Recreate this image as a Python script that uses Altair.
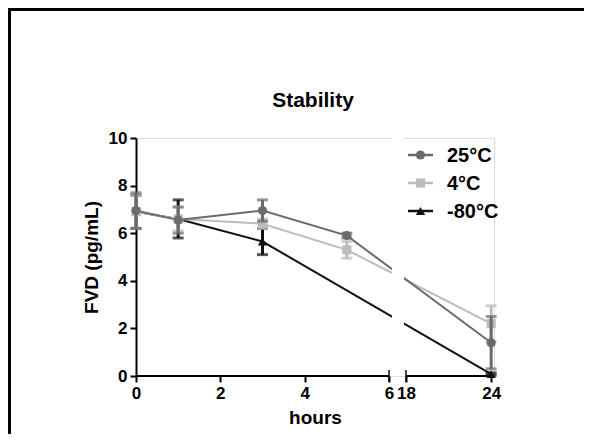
import altair as alt
import pandas as pd

# ---- data ----
hours = [0, 1, 3, 5, 24]
s25_mean = [6.95, 6.55, 6.95, 5.9, 1.4]
s25_err = [0.75, 0.55, 0.45, 0.1, 1.1]
s4_mean = [6.9, 6.6, 6.4, 5.3, 2.2]
s4_err = [0.7, 0.5, 0.2, 0.35, 0.75]
hours80 = [0, 1, 3, 24]
s80_mean = [6.9, 6.6, 5.65, 0.08]
s80_err = [0.7, 0.8, 0.55, 0.05]

series_names = ["25\u00b0C", "4\u00b0C", "-80\u00b0C"]
series_colors = ["#6b6b6b", "#bcbcbc", "#111111"]
series_shapes = ["circle", "square", "triangle-up"]

chart_title = "Stability"
x_ticks = [0, 2, 4, 6, 18, 24]
y_ticks = [0, 2, 4, 6, 8, 10]
axis_segments = [(0, 6), (18, 24.2)]
break_gap = (8.1, 16.6)

FONT = "Liberation Sans"

def make_df(h, m, e):
    return pd.DataFrame({"h": h, "m": m, "lo": [a - b for a, b in zip(m, e)],
                         "hi": [a + b for a, b in zip(m, e)]})

dfs = {
    "25\u00b0C": make_df(hours, s25_mean, s25_err),
    "4\u00b0C": make_df(hours, s4_mean, s4_err),
    "-80\u00b0C": make_df(hours80, s80_mean, s80_err),
}

xscale = alt.Scale(domain=[0, 6, 18, 24.2], range=[0, 253, 270, 358], nice=False, zero=False)
yscale = alt.Scale(domain=[0, 10], nice=False, zero=False)
xaxis = alt.Axis(values=x_ticks, domain=False, grid=False, tickColor="black", tickWidth=2,
                 tickSize=6, labelFont=FONT, labelFontSize=17, labelFontWeight="bold",
                 labelColor="black", labelPadding=3, labelFlush=False, labelOverlap=False,
                 title="hours", titleFont=FONT, titleFontSize=19, titleFontWeight="bold",
                 titleColor="black", titlePadding=7)
yaxis = alt.Axis(values=y_ticks, grid=False, domainColor="black", domainWidth=2,
                 tickColor="black", tickWidth=2, tickSize=6, labelFont=FONT,
                 labelFontSize=17, labelFontWeight="bold", labelColor="black",
                 labelPadding=3, labelFlush=False,
                 title="FVD (pg/mL)", titleFont=FONT, titleFontSize=19,
                 titleFontWeight="bold", titleColor="black", titlePadding=7)

def X(f):
    return alt.X(f, type="quantitative", scale=xscale, axis=xaxis)

def Y(f):
    return alt.Y(f, type="quantitative", scale=yscale, axis=yaxis)

layers = []

# broken x-axis baseline segments
seg_df = pd.DataFrame({"a": [s[0] for s in axis_segments], "b": [s[1] for s in axis_segments],
                       "y": [0, 0]})
layers.append(alt.Chart(seg_df).mark_rule(color="black", strokeWidth=2).encode(
    x=X("a"), x2="b", y=Y("y")))
cap_df = pd.DataFrame({"x": [6, 18], "y": [0, 0]})
layers.append(alt.Chart(cap_df).mark_tick(color="black", thickness=2, size=12,
                                          orient="vertical").encode(x=X("x"), y=Y("y")))

order = [2, 1, 0]
for i in order:
    name = series_names[i]
    d = dfs[name]
    c = series_colors[i]
    layers.append(alt.Chart(d).mark_line(color=c, strokeWidth=2).encode(x=X("h"), y=Y("m")))

# white gap for the axis break
gap_df = pd.DataFrame({"a": [break_gap[0]], "b": [break_gap[1]], "y0": [0.05], "y1": [10]})
layers.append(alt.Chart(gap_df).mark_rect(color="white").encode(
    x=X("a"), x2="b", y=Y("y0"), y2="y1"))

for i in order:
    name = series_names[i]
    d = dfs[name]
    c = series_colors[i]
    base = alt.Chart(d)
    layers.append(base.mark_rule(color=c, strokeWidth=3).encode(x=X("h"), y=Y("lo"), y2="hi"))
    layers.append(base.mark_tick(color=c, thickness=3, size=11, orient="horizontal").encode(
        x=X("h"), y=Y("lo")))
    layers.append(base.mark_tick(color=c, thickness=3, size=11, orient="horizontal").encode(
        x=X("h"), y=Y("hi")))
    layers.append(base.mark_point(color=c, shape=series_shapes[i], filled=True, opacity=1,
                                  size=85).encode(x=X("h"), y=Y("m")))

# manual legend
leg_rows = [17, 45, 73]
for i in range(3):
    c = series_colors[i]
    ld = pd.DataFrame({"label": [series_names[i]]})
    lb = alt.Chart(ld)
    layers.append(lb.mark_rule(color=c, strokeWidth=2.5).encode(
        x=alt.value(272), x2=alt.value(297), y=alt.value(leg_rows[i])))
    layers.append(lb.mark_point(color=c, shape=series_shapes[i], filled=True, opacity=1,
                                size=85).encode(x=alt.value(284.5), y=alt.value(leg_rows[i])))
    layers.append(lb.mark_text(align="left", baseline="middle", font=FONT, fontSize=20,
                               fontWeight="bold", color="black").encode(
        x=alt.value(311), y=alt.value(leg_rows[i] + 1), text="label:N"))

# chart title
td = alt.Chart(pd.DataFrame({"t": [chart_title]}))
layers.append(td.mark_text(align="center", baseline="middle", font=FONT, fontSize=21,
                           fontWeight="bold", color="black").encode(
    x=alt.value(177), y=alt.value(-37), text="t:N"))

# frame lines (top and left) of the figure
fr = alt.Chart(pd.DataFrame({"k": [0]}))
layers.append(fr.mark_rule(color="black", strokeWidth=3).encode(
    x=alt.value(-126.5), y=alt.value(-130), y2=alt.value(300)))
layers.append(fr.mark_rule(color="black", strokeWidth=3).encode(
    x=alt.value(-128), x2=alt.value(448), y=alt.value(-128.5)))

chart = alt.layer(*layers).properties(
    width=358, height=238,
    autosize=alt.AutoSizeParams(type="none"),
    padding={"left": 128, "top": 130, "right": 90, "bottom": 58},
).configure_view(stroke=None).configure(background="white")

chart.save("out.html", embed_options={"renderer": "svg", "actions": False})
